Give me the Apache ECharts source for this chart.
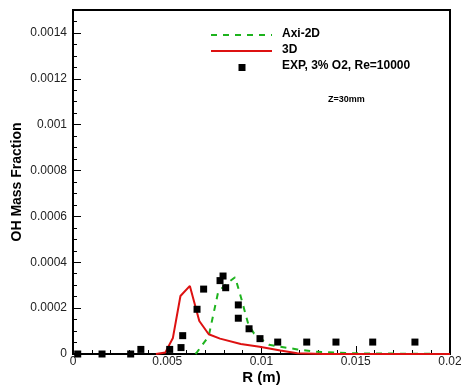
<!DOCTYPE html>
<html>
<head>
<meta charset="utf-8">
<script src="https://cdn.jsdelivr.net/npm/echarts@6/dist/echarts.min.js"></script>
<style>html,body{margin:0;padding:0;background:#fff}#c{width:461px;height:385px}</style>
</head>
<body>
<div id="c"></div>
<script>
// Axi-2D (green dashed)
const axiX = [0.0065, 0.0066, 0.0072, 0.0077, 0.0082, 0.0086, 0.0089, 0.0093, 0.0096, 0.0104, 0.0119, 0.0129, 0.0149, 0.0200];
const axiY = [0, 0.00001, 0.000078, 0.00027, 0.00031, 0.000335, 0.00025, 0.00013, 0.00009, 0.00004, 0.00002, 0.00001, 0.000003, 0];
// 3D (red solid)
const d3X = [0.0044, 0.0049, 0.0053, 0.0057, 0.0062, 0.0067, 0.0072, 0.0078, 0.0089, 0.0099, 0.0110, 0.0119, 0.0133, 0.0200];
const d3Y = [0, 0.000007, 0.00007, 0.000253, 0.000297, 0.000144, 0.000086, 0.000067, 0.000044, 0.000032, 0.000015, 0.000003, 0, 0];
// EXP, 3% O2, Re=10000 (black squares)
const expX = [0.00025, 0.00154, 0.00306, 0.0036, 0.00513, 0.00573, 0.00582, 0.00658, 0.00693, 0.0078, 0.00796, 0.0081, 0.00877, 0.00877, 0.00934, 0.00992, 0.01086, 0.0124, 0.01395, 0.0159, 0.01814];
const expY = [0, 0, 0, 0.00002, 0.00002, 0.000028, 0.00008, 0.000195, 0.000283, 0.00032, 0.00034, 0.000289, 0.000214, 0.000156, 0.00011, 0.000067, 0.000052, 0.000052, 0.000052, 0.000052, 0.000052];

const xTicks = ['0', '0.005', '0.01', '0.015', '0.02'];
const yTicks = ['0', '0.0002', '0.0004', '0.0006', '0.0008', '0.001', '0.0012', '0.0014'];

const zip = (a, b) => a.map((v, i) => [v, b[i]]);
const FONT = '"Liberation Sans", Arial, sans-serif';

const chart = echarts.init(document.getElementById('c'), null, {renderer: 'canvas'});
chart.setOption({
  animation: false,
  backgroundColor: '#fff',
  grid: {left: 73, right: 11, top: 10, bottom: 31, containLabel: false, outerBoundsMode: 'none',
    show: true, borderColor: '#000', borderWidth: 2, backgroundColor: 'transparent'},
  xAxis: {
    type: 'value', min: 0, max: 0.02, interval: 0.005,
    name: 'R (m)', nameLocation: 'middle', nameGap: 16, nameMoveOverlap: false,
    nameTextStyle: {fontFamily: FONT, fontWeight: 'bold', fontSize: 15, color: '#000'},
    axisLine: {show: true, lineStyle: {color: '#000', width: 2}},
    axisTick: {show: true, inside: true, length: 8, lineStyle: {color: '#000', width: 1}},
    minorTick: {show: true, splitNumber: 5, length: 4, lineStyle: {color: '#000', width: 1}},
    splitLine: {show: false},
    axisLabel: {margin: 2, fontFamily: FONT, fontSize: 12, color: '#222',
      formatter: v => { const i = Math.round(v / 0.005); return Math.abs(v - i * 0.005) < 1e-9 ? xTicks[i] : ''; }}
  },
  yAxis: {
    type: 'value', min: 0, max: 0.0015, interval: 0.0002,
    name: 'OH Mass Fraction', nameLocation: 'middle', nameGap: 49, nameMoveOverlap: false,
    nameTextStyle: {fontFamily: FONT, fontWeight: 'bold', fontSize: 14, color: '#000'},
    axisLine: {show: true, lineStyle: {color: '#000', width: 2}},
    axisTick: {show: true, inside: true, length: 8, lineStyle: {color: '#000', width: 1}},
    minorTick: {show: true, splitNumber: 4, length: 4, lineStyle: {color: '#000', width: 1}},
    splitLine: {show: false},
    axisLabel: {margin: 6, fontFamily: FONT, fontSize: 12, color: '#222', showMaxLabel: false,
      formatter: v => { const i = Math.round(v / 0.0002); return (Math.abs(v - i * 0.0002) < 1e-10 && i < yTicks.length) ? yTicks[i] : ''; }}
  },
  series: [
    {name: 'Axi-2D', type: 'line', data: zip(axiX, axiY), showSymbol: false, symbol: 'none',
      lineStyle: {color: '#1db31d', width: 2, type: [6, 6]}, z: 3},
    {name: '3D', type: 'line', data: zip(d3X, d3Y), showSymbol: false, symbol: 'none',
      lineStyle: {color: '#dd1111', width: 2}, z: 3},
    {name: 'EXP, 3% O2, Re=10000', type: 'scatter', data: zip(expX, expY), symbol: 'rect', symbolSize: 7,
      itemStyle: {color: '#000', opacity: 1}, z: 4}
  ],
  graphic: [
    {type: 'line', shape: {x1: 211, y1: 35, x2: 272, y2: 35}, style: {stroke: '#1db31d', lineWidth: 2, lineDash: [6, 6]}},
    {type: 'line', shape: {x1: 211, y1: 51, x2: 272, y2: 51}, style: {stroke: '#dd1111', lineWidth: 2}},
    {type: 'rect', shape: {x: 238.5, y: 64, width: 7, height: 7}, style: {fill: '#000'}},
    {type: 'text', left: 282, top: 28, style: {text: 'Axi-2D', font: 'bold 12px ' + FONT, fill: '#000'}},
    {type: 'text', left: 282, top: 44, style: {text: '3D', font: 'bold 12px ' + FONT, fill: '#000'}},
    {type: 'text', left: 282, top: 60, style: {text: 'EXP, 3% O2, Re=10000', font: 'bold 12px ' + FONT, fill: '#000'}},
    {type: 'text', left: 328, top: 95, style: {text: 'Z=30mm', font: 'bold 9px ' + FONT, fill: '#000'}}
  ]
});
</script>
</body>
</html>
